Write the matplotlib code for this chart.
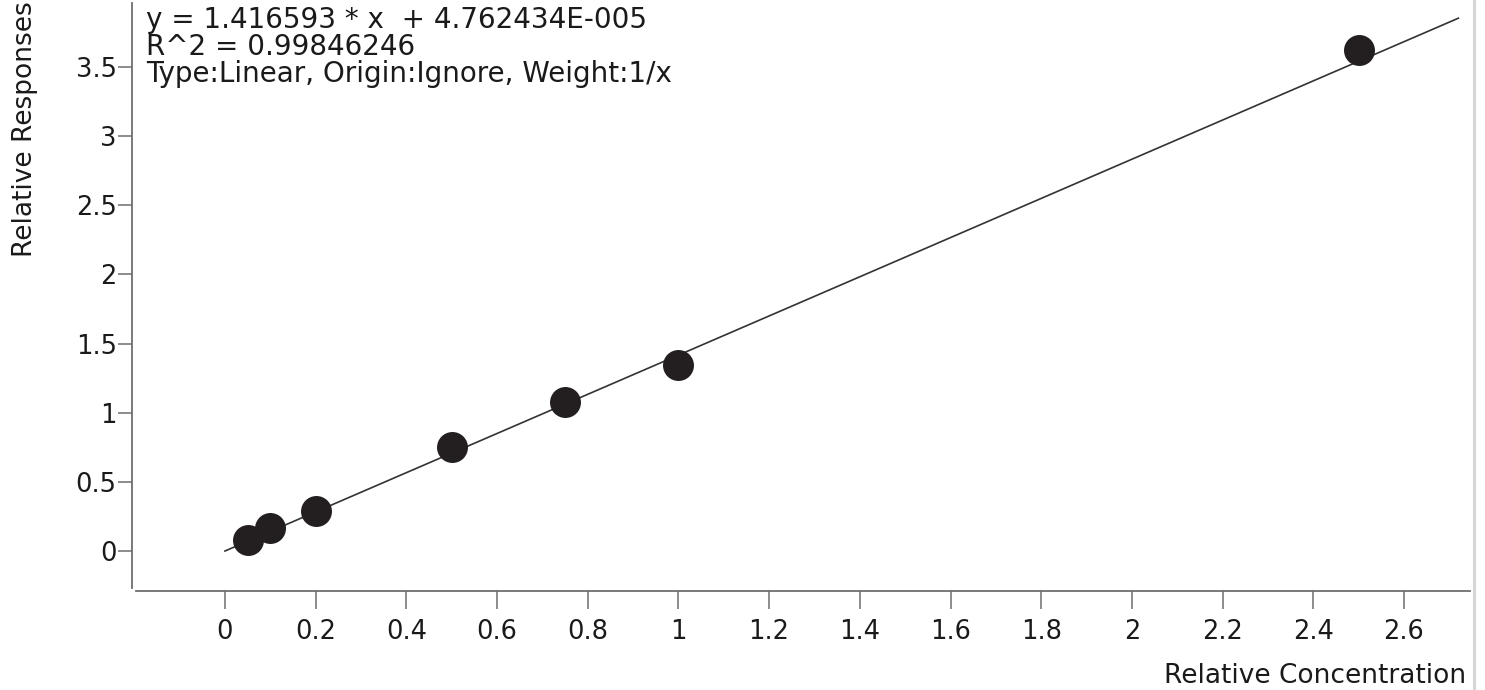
import matplotlib
matplotlib.use("Agg")
import matplotlib.pyplot as plt
from matplotlib.lines import Line2D
from matplotlib.ticker import FixedLocator, FuncFormatter
import numpy as np

# Calibration standards
concentration = [0.05, 0.1, 0.2, 0.5, 0.75, 1.0, 2.5]
response = [0.08, 0.165, 0.29, 0.75, 1.075, 1.345, 3.62]

# Fitted calibration curve
slope = 1.416593
intercept = 4.762434e-05
fit_range = [0.0, 2.72]

x_ticks = [0, 0.2, 0.4, 0.6, 0.8, 1, 1.2, 1.4, 1.6, 1.8, 2, 2.2, 2.4, 2.6]
y_ticks = [0, 0.5, 1, 1.5, 2, 2.5, 3, 3.5]

info_lines = [
    "y = 1.416593 * x  + 4.762434E-005",
    "R^2 = 0.99846246",
    "Type:Linear, Origin:Ignore, Weight:1/x",
]

W, H = 1485, 690
plt.rcParams["font.family"] = ["DejaVu Sans"]
FS_TICK = 18.5
FS_INFO = 20
FS_LABEL = 19

fig = plt.figure(figsize=(W / 100, H / 100), dpi=100)
ax = fig.add_axes([132 / W, (H - 591) / H, (1470 - 132) / W, (591 - 3) / H])

ax.set_xlim(-0.205, 2.7456)
ax.set_ylim(-0.289, 3.963)

fx = np.array(fit_range)
ax.plot(fx, slope * fx + intercept, color="#333333", lw=1.2, zorder=2)
ax.plot(concentration, response, "o", color="#231f20", markersize=22.3,
        markeredgewidth=0, zorder=3)

spine_color = "#6e6e6e"
for side in ("top", "right"):
    ax.spines[side].set_visible(False)
for side in ("left", "bottom"):
    ax.spines[side].set_color(spine_color)
    ax.spines[side].set_linewidth(1.3)
ax.spines["left"].set_bounds(-0.27, 3.963)
ax.spines["bottom"].set_bounds(-0.196, 2.7456)

fmt = FuncFormatter(lambda v, p: f"{v:g}")
ax.xaxis.set_major_locator(FixedLocator(x_ticks))
ax.yaxis.set_major_locator(FixedLocator(y_ticks))
ax.xaxis.set_major_formatter(fmt)
ax.yaxis.set_major_formatter(fmt)
ax.tick_params(axis="x", direction="out", length=13, width=1.1, color=spine_color,
               labelsize=FS_TICK, pad=7, labelcolor="#1a1a1a")
ax.tick_params(axis="y", direction="out", length=10, width=1.1, color=spine_color,
               labelsize=FS_TICK, pad=1, labelcolor="#1a1a1a")

# Equation and fit settings in the upper-left corner, as one tightly spaced block
fig.text(146 / W, 1 - 82 / H, "\n".join(info_lines), fontsize=FS_INFO,
         color="#1a1a1a", ha="left", va="baseline", linespacing=0.955)

fig.text(25 / W, 1 - 1 / H, "Relative Responses", rotation=90, fontsize=FS_LABEL,
         color="#1a1a1a", ha="center", va="top")
fig.text(1466 / W, 1 - 683 / H, "Relative Concentration", fontsize=FS_LABEL,
         color="#1a1a1a", ha="right", va="baseline")

# Panel border at the right edge
fig.add_artist(Line2D([1473.5 / W, 1473.5 / W], [0, 1], transform=fig.transFigure,
                      color="#d6d6d6", lw=2.2))

fig.savefig("out.png", dpi=100)
